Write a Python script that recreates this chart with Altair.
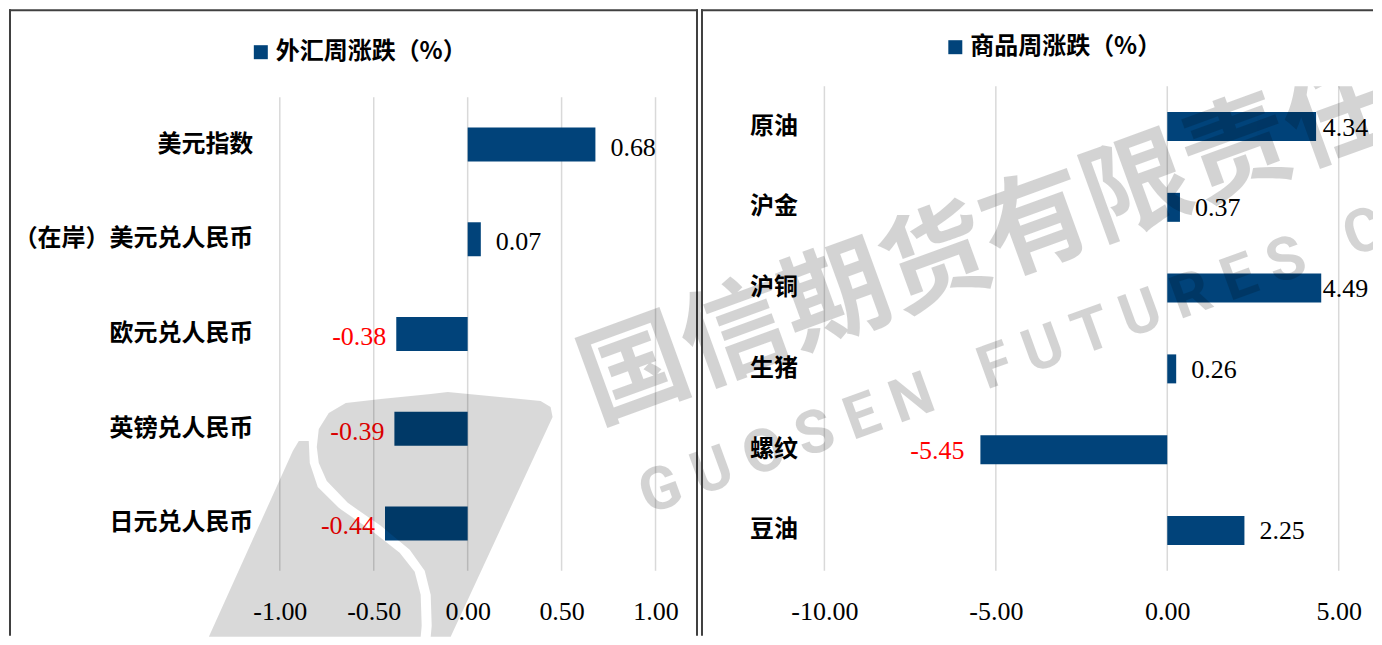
import altair as alt
import pandas as pd

# ---------------- data ----------------
fx_names = ["美元指数", "（在岸）美元兑人民币", "欧元兑人民币", "英镑兑人民币", "日元兑人民币"]
fx_values = [0.68, 0.07, -0.38, -0.39, -0.44]
fx_series = "外汇周涨跌（%）"
fx_ticks = [-1.0, -0.5, 0.0, 0.5, 1.0]

cm_names = ["原油", "沪金", "沪铜", "生猪", "螺纹", "豆油"]
cm_values = [4.34, 0.37, 4.49, 0.26, -5.45, 2.25]
cm_series = "商品周涨跌（%）"
cm_ticks = [-10.0, -5.0, 0.0, 5.0]

wm_cn_a = "国信期货有限责"
wm_cn_b = "任"
wm_en_a = "G U O S E N"
wm_en_b = "F U T U R E S\u00a0\u00a0 C O"

# ---------------- style ----------------
BAR = "#01437a"
GRID = "#d9d9d9"
BORDER = "#404040"
CJK = "Noto Sans CJK SC"
NUM = "Liberation Serif"
H = 485
BOTTOM = 550  # lowest drawn pixel row (relative to plot top)

LOGO = ("M-0.32,-0.47 L-0.31,-0.56 L-0.26,-0.64 L-0.175,-0.69 L0,-0.71 L0.25,-0.735 "
        "L0.335,-0.745 L0.8,-0.7 L0.85,-0.67 L0.86,-0.62 L0.35,0.48 L0.25,0.48 "
        "L0.255,0.425 L0.25,0.27 L0.22,0.15 L0.145,0.045 L0,-0.075 "
        "L-0.165,-0.19 L-0.27,-0.3 L-0.31,-0.39 Z "
        "M-0.36,-0.5 L-0.355,-0.39 L-0.315,-0.27 L-0.21,-0.165 L-0.045,-0.05 "
        "L0.095,0.06 L0.17,0.155 L0.2,0.27 L0.205,0.425 L0.2,0.48 "
        "L-0.86,0.48 L-0.44,-0.45 L-0.41,-0.5 Z")

MINUS = "\u2212"


def panel(names, values, series, ticks, domain, y_range, bar_size,
          legend_x, legend_y, pos_dx, neg_dx, label_dy, label_cap):
    df = pd.DataFrame({"name": names, "value": values, "series": series})
    tick_df = pd.DataFrame({"value": ticks})
    deco = alt.Chart(pd.DataFrame({"k": [0]}))

    axis_x = alt.Axis(values=ticks, format=".2f", grid=False, domain=False,
                      ticks=False, tickSize=0, labelPadding=28,
                      labelExpr=f"replace(datum.label, '{MINUS}', '-')",
                      labelFont=NUM, labelFontSize=26, labelColor="#000000",
                      labelFlush=False, labelOverlap=False, title=None)
    xscale = alt.Scale(domain=domain, nice=False, zero=False)
    xdef = alt.X("value:Q", scale=xscale, axis=axis_x)
    xlab = alt.X("lx:Q", scale=xscale, axis=axis_x)
    ydef = alt.Y("name:N", sort=names,
                 scale=alt.Scale(range=y_range, paddingInner=0, paddingOuter=0),
                 axis=alt.Axis(title=None, domain=False, ticks=False, tickSize=0,
                               labelFont=CJK, labelFontSize=24, labelFontWeight="bold",
                               labelColor="#000000", labelPadding=27, labelLimit=400))

    grid = alt.Chart(tick_df).mark_rule(color=GRID, strokeWidth=1.5).encode(
        x=xdef, y=alt.value(y_range[0]), y2=alt.value(y_range[1]))

    bars = alt.Chart(df).mark_bar(size=bar_size).encode(
        x=xdef, y=ydef,
        color=alt.Color("series:N", scale=alt.Scale(range=[BAR]),
                        legend=alt.Legend(orient="none", legendX=legend_x, legendY=legend_y,
                                          title=None, symbolType="square", symbolSize=196,
                                          symbolStrokeWidth=0, labelFont=CJK,
                                          labelFontSize=24, labelFontWeight="bold",
                                          labelColor="#000000", labelOffset=3,
                                          labelLimit=400, padding=0)))

    lab = alt.Chart(df).transform_calculate(
        lbl=f"replace(format(datum.value, '.2f'), '{MINUS}', '-')",
        lx=f"min(datum.value, {label_cap})")
    pos = lab.transform_filter("datum.value >= 0").mark_text(
        align="left", baseline="middle", dx=pos_dx, dy=label_dy,
        font=NUM, fontSize=26, color="#000000").encode(
        x=xlab, y=ydef, text="lbl:N")
    neg = lab.transform_filter("datum.value < 0").mark_text(
        align="right", baseline="middle", dx=neg_dx, dy=label_dy,
        font=NUM, fontSize=26, color="#ff0000").encode(
        x=xlab, y=ydef, text="lbl:N")

    return [grid, bars, pos, neg], deco


# ---------------- left panel ----------------
W1 = 376
left_layers, deco1 = panel(fx_names, fx_values, fx_series, fx_ticks, [-1, 1],
                           [11, H], 34, -31, -46, 15, -10, 3, 99)
logo = deco1.mark_point(shape=LOGO, size=160000, filled=True, color="#000000",
                        opacity=0.15, strokeWidth=0).encode(
    x=alt.value(101), y=alt.value(455))
b1_left = deco1.mark_rule(color=BORDER, strokeWidth=2).encode(
    x=alt.value(-270), y=alt.value(-77), y2=alt.value(BOTTOM))
b1_top = deco1.mark_rule(color=BORDER, strokeWidth=2).encode(
    x=alt.value(-271), x2=alt.value(418.5), y=alt.value(-76))
b1_right = deco1.mark_rule(color=BORDER, strokeWidth=2).encode(
    x=alt.value(417.5), y=alt.value(-77), y2=alt.value(BOTTOM))
left = alt.layer(*left_layers, logo, b1_left, b1_top, b1_right).properties(
    width=W1, height=H)

# ---------------- right panel ----------------
W2 = 549
right_layers, deco2 = panel(cm_names, cm_values, cm_series, cm_ticks, [-10, 6],
                            [0, H], 29, 119, -51, 15, -16, 1, 4.1)
wm_style = dict(align="left", baseline="middle", angle=340, color="#000000", opacity=0.17)
wm1 = deco2.mark_text(text=wm_cn_a, font=CJK, fontSize=107, fontWeight="bold",
                      **wm_style).encode(x=alt.value(-239), y=alt.value(306))
wm2 = deco2.mark_text(text=wm_cn_b, font=CJK, fontSize=107, fontWeight="bold", clip=True,
                      **wm_style).encode(x=alt.value(465), y=alt.value(50))
wm3 = deco2.mark_text(text=wm_en_a, font="Roboto", fontSize=60, fontWeight="bold",
                      **wm_style).encode(x=alt.value(-183), y=alt.value(412))
wm4 = deco2.mark_text(text=wm_en_b, font="Roboto", fontSize=60, fontWeight="bold",
                      clip=True, **wm_style).encode(x=alt.value(156), y=alt.value(287))
b2_left = deco2.mark_rule(color=BORDER, strokeWidth=2).encode(
    x=alt.value(-122.5), y=alt.value(-77), y2=alt.value(BOTTOM))
b2_top = deco2.mark_rule(color=BORDER, strokeWidth=2).encode(
    x=alt.value(-123.5), x2=alt.value(W2), y=alt.value(-76))
right = alt.layer(*right_layers, wm1, wm2, wm3, wm4, b2_left, b2_top).properties(
    width=W2, height=H)

chart = alt.HConcatChart(hconcat=[left, right], spacing=169, bounds="flush",
                         padding=0, background="white")
chart = chart.resolve_scale(color="independent", x="independent", y="independent") \
    .resolve_legend(color="independent") \
    .configure_view(strokeWidth=0)

chart.save("out.html", embed_options={"renderer": "svg", "actions": False})
